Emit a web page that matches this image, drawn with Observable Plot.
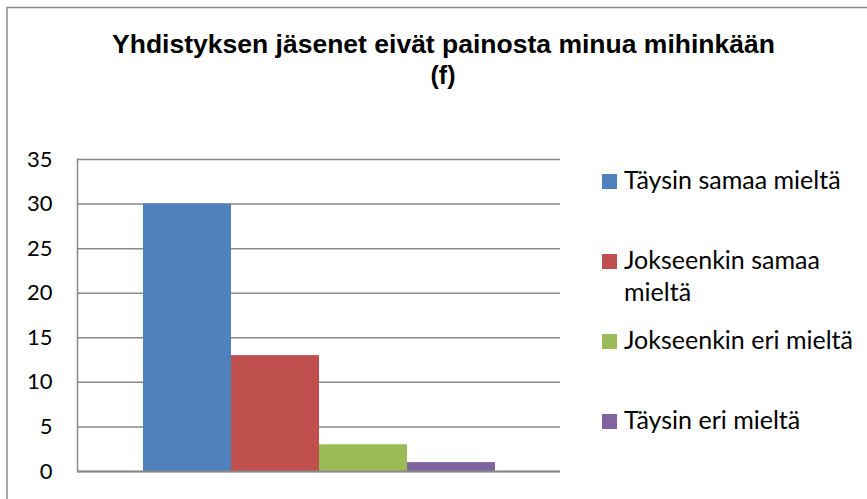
<!DOCTYPE html>
<html>
<head>
<meta charset="utf-8">
<script src="https://cdn.jsdelivr.net/npm/d3@7"></script>
<script src="https://cdn.jsdelivr.net/npm/@observablehq/plot@0.6"></script>
<style>
  html, body { margin: 0; padding: 0; background: #fff; }
  #chart svg { display: block; }
</style>
</head>
<body>
<div id="chart"></div>
<script>
const titleLines = ["Yhdistyksen jäsenet eivät painosta minua mihinkään", "(f)"];
const categories = ["Täysin samaa mieltä", "Jokseenkin samaa mieltä", "Jokseenkin eri mieltä", "Täysin eri mieltä"];
const legendLabels = [["Täysin samaa mieltä"], ["Jokseenkin samaa", "mieltä"], ["Jokseenkin eri mieltä"], ["Täysin eri mieltä"]];
const values = [30, 13, 3, 1];
const colors = ["#4F81BD", "#C0504D", "#9BBB59", "#8064A2"];
const yTicks = [0, 5, 10, 15, 20, 25, 30, 35];

const data = categories.map((c, i) => ({category: c, value: values[i]}));

const W = 867, H = 499;
const mL = 77, mR = 307, mT = 159, mB = 28;

const chart = Plot.plot({
  width: W,
  height: H,
  marginLeft: mL,
  marginRight: mR,
  marginTop: mT,
  marginBottom: mB,
  style: {fontFamily: "Lato, sans-serif", background: "#fff", color: "#000"},
  x: {domain: categories, paddingInner: 0, paddingOuter: 0.744, axis: null},
  y: {domain: [0, 35]},
  color: {domain: categories, range: colors},
  marks: [
    Plot.gridY(yTicks, {stroke: "#888888", strokeOpacity: 1, strokeWidth: 1.5}),
    Plot.barY(data, {x: "category", y: "value", fill: "category", inset: 0}),
    Plot.ruleY([0], {stroke: "#8a8a8a", strokeWidth: 2}),
    Plot.frame({anchor: "left", stroke: "#888888", strokeWidth: 1.5}),
    Plot.axisY(yTicks, {tickSize: 0, tickPadding: 25, fontSize: 22, fill: "#000", label: null})
  ]
});

document.getElementById("chart").appendChild(chart);

const svg = d3.select(chart);
const color = chart.scale("color");

// outer chart border (top and left visible)
svg.append("line").attr("x1", 7).attr("x2", W).attr("y1", 7.5).attr("y2", 7.5)
  .attr("stroke", "#8c8c8c").attr("stroke-width", 1.5);
svg.append("line").attr("x1", 7).attr("x2", 7).attr("y1", 7).attr("y2", H)
  .attr("stroke", "#8c8c8c").attr("stroke-width", 1.5);

// title
const title = svg.append("text")
  .attr("text-anchor", "middle")
  .attr("font-family", "'Liberation Sans', Arial, sans-serif")
  .attr("font-weight", "bold")
  .attr("font-size", 25)
  .attr("fill", "#000");
title.append("tspan").attr("x", 443.5).attr("y", 53)
  .attr("textLength", 663).attr("lengthAdjust", "spacingAndGlyphs")
  .text(titleLines[0]);
title.append("tspan").attr("x", 443).attr("y", 84)
  .attr("textLength", 25).attr("lengthAdjust", "spacingAndGlyphs")
  .text(titleLines[1]);

// legend
const legendBaselines = [[189], [269, 301], [349], [429]];
const lg = svg.append("g")
  .attr("font-family", "Lato, sans-serif")
  .attr("font-size", 25)
  .attr("text-anchor", "start")
  .attr("fill", "#000");
categories.forEach((c, i) => {
  const b = legendBaselines[i][0];
  lg.append("rect").attr("x", 602).attr("y", b - 15).attr("width", 15).attr("height", 15)
    .attr("fill", color.apply(c));
  legendLabels[i].forEach((line, j) => {
    lg.append("text").attr("x", 624).attr("y", legendBaselines[i][j])
      .attr("text-anchor", "start").text(line);
  });
});
</script>
</body>
</html>
